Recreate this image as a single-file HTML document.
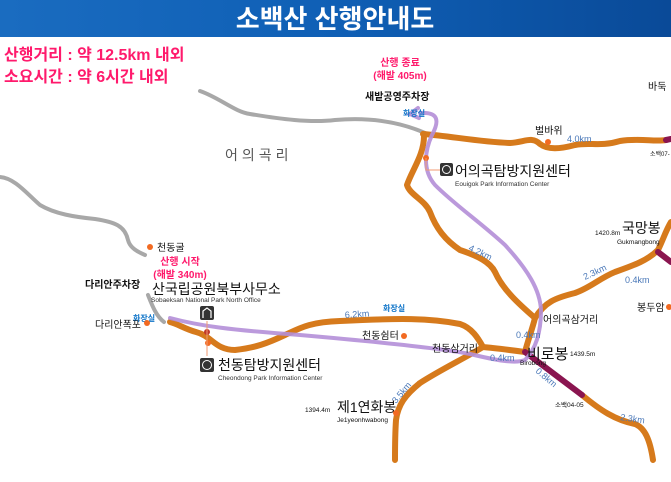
<!DOCTYPE html>
<html><head><meta charset="utf-8"><style>
html,body{margin:0;padding:0;background:#fff;}
svg{display:block;}
text{font-family:"Liberation Sans","Noto Sans CJK KR",sans-serif;}
</style></head><body>
<svg width="671" height="482" viewBox="0 0 671 482" xmlns="http://www.w3.org/2000/svg">
<defs>
<linearGradient id="hg" x1="0" x2="1" y1="0" y2="0">
<stop offset="0" stop-color="#1a6cc0"/><stop offset="0.5" stop-color="#0f5fb5"/><stop offset="1" stop-color="#0a4a98"/>
</linearGradient>
</defs>
<rect x="0" y="0" width="671" height="37" fill="url(#hg)"/>
<text x="335" y="28" font-size="26" font-weight="bold" fill="#fff" text-anchor="middle">소백산 산행안내도</text>

<g fill="none" stroke="#a8a8a8" stroke-width="4" stroke-linecap="round">
<path d="M200,91 C220,98 235,112 250,114 C280,119 310,123 335,120 C370,117 400,122 425,133"/>
<path d="M0,177 C15,178 28,195 40,205 C55,214 75,217 95,219 C115,222 125,226 128,240 C130,248 138,252 145,255"/>
<path d="M148,295 C152,305 156,316 164,322"/>
</g>

<g fill="none" stroke="#d67a1c" stroke-width="6" stroke-linecap="round" stroke-linejoin="round">
<path d="M423,134 C450,136 480,142 510,143 C525,142 532,136 540,144 C548,150 560,149 575,145 C590,142 600,147 620,141 C640,138 655,142 666,140"/>
<path d="M424,136 C424,155 412,170 407,185 C410,195 425,200 430,212 C436,228 445,240 460,250 C478,256 490,262 495,272 C503,290 520,305 535,318"/>
<path d="M535,318 C532,330 528,340 525,352"/>
<path d="M535,318 C545,302 555,298 575,293 C590,288 600,278 615,272 C635,265 648,260 658,250 C663,240 666,230 671,222"/>
<path d="M525,352 C510,350 495,348 483,347 C478,338 472,328 460,324 C430,318 400,318 340,321 C310,322 300,328 285,335 C268,343 255,348 235,350 C215,350 212,336 196,332 C185,329 178,324 170,322"/>
<path d="M483,347 C465,358 440,370 420,383 C405,395 398,405 396,420 C395,435 395,450 395,460"/>
<path d="M582,395 C600,410 615,420 635,424 C645,428 650,440 653,460"/>
</g>
<g fill="none" stroke="#8a1550" stroke-width="6" stroke-linecap="round">
<path d="M525,352 L582,395"/>
<path d="M658,252 L671,262"/>
<path d="M666,140 L671,139"/>
</g>

<g fill="none" stroke="#b48fd8" stroke-width="4" stroke-linecap="round" opacity="0.9">
<path d="M170,318 C200,326 230,330 300,335 C380,342 440,348 470,354 C495,360 515,364 525,360 C535,350 541,335 541,310 C540,290 528,270 505,245 C480,222 455,205 435,185 C422,170 425,150 432,135 C440,120 438,112 420,113"/>
<path d="M418,108 L410,114 L419,118"/>
</g>

<g fill="#ff1a6c" font-weight="bold">
<text x="4" y="60" font-size="16">산행거리 : 약 12.5km 내외</text>
<text x="4" y="82" font-size="16">소요시간 : 약 6시간 내외</text>
<text x="400" y="66" font-size="10" text-anchor="middle">산행 종료</text>
<text x="400" y="79" font-size="10" text-anchor="middle">(해발 405m)</text>
<text x="180" y="265" font-size="10" text-anchor="middle">산행 시작</text>
<text x="180" y="278" font-size="10" text-anchor="middle">(해발 340m)</text>
</g>

<g fill="#111">
<text x="365" y="100" font-size="10" font-weight="bold">새밭공영주차장</text>
<text x="85" y="288" font-size="10" font-weight="bold">다리안주차장</text>
<text x="648" y="90" font-size="10">바둑</text>
<text x="535" y="134" font-size="10">벌바위</text>
<text x="650" y="156" font-size="6">소백07-</text>
<text x="455" y="176" font-size="14">어의곡탐방지원센터</text>
<text x="455" y="186" font-size="6.5" fill="#333">Eouigok Park Information Center</text>
<text x="225" y="160" font-size="14" fill="#555" letter-spacing="4">어의곡리</text>
<text x="157" y="251" font-size="10">천동굴</text>
<text x="152" y="294" font-size="14">산국립공원북부사무소</text>
<text x="151" y="302" font-size="6.5" fill="#333">Sobaeksan National Park North Office</text>
<text x="95" y="328" font-size="10">다리안폭포</text>
<text x="218" y="370" font-size="14">천동탐방지원센터</text>
<text x="218" y="380" font-size="6.5" fill="#333">Cheondong Park Information Center</text>
<text x="362" y="339" font-size="10">천동쉼터</text>
<text x="432" y="352" font-size="10">천동삼거리</text>
<text x="543" y="323" font-size="10">어의곡삼거리</text>
<text x="527" y="359" font-size="15">비로봉</text>
<text x="570" y="356" font-size="6.5">1439.5m</text>
<text x="520" y="365" font-size="6.5">Birobong</text>
<text x="555" y="407" font-size="6.5">소백04-05</text>
<text x="637" y="311" font-size="10">봉두암</text>
<text x="595" y="235" font-size="6.5">1420.8m</text>
<text x="622" y="233" font-size="14">국망봉</text>
<text x="617" y="244" font-size="6.5">Gukmangbong</text>
<text x="305" y="412" font-size="6.5">1394.4m</text>
<text x="337" y="412" font-size="14">제1연화봉</text>
<text x="337" y="422" font-size="6.5">Je1yeonhwabong</text>
</g>

<g fill="#0f74c8" font-size="8" font-weight="bold">
<text x="403" y="116">화장실</text>
<text x="133" y="321">화장실</text>
<text x="383" y="311">화장실</text>
</g>

<g fill="#4a78b8" font-size="9">
<text x="567" y="142">4.0km</text>
<text x="345" y="318" transform="rotate(-4 345 318)">6.2km</text>
<text x="490" y="361">0.4km</text>
<text x="516" y="338">0.4km</text>
<text x="535" y="372" transform="rotate(40 535 372)">0.8km</text>
<text x="620" y="420" transform="rotate(8 620 420)">2.3km</text>
<text x="468" y="250" transform="rotate(25 468 250)">4.2km</text>
<text x="585" y="280" transform="rotate(-25 585 280)">2.3km</text>
<text x="625" y="283">0.4km</text>
<text x="396" y="404" transform="rotate(-50 396 404)">3.5km</text>
</g>

<g fill="#f26a22">
<circle cx="548" cy="142" r="3"/>
<circle cx="426" cy="158" r="3"/>
<circle cx="150" cy="247" r="3"/>
<circle cx="147" cy="323" r="3"/>
<circle cx="207" cy="332" r="3" fill="#c0392b"/>
<circle cx="208" cy="343" r="3"/>
<circle cx="404" cy="336" r="3"/>
<circle cx="669" cy="307" r="3"/>
<circle cx="396" cy="413" r="3"/>
</g>
<g stroke="#f09a70" stroke-width="1" fill="none">
<path d="M426,158 V170 H440"/>
<path d="M207,321 V356"/>
</g>
<g>
<rect x="440" y="163" width="13" height="13" rx="2" fill="#333"/>
<circle cx="446.5" cy="169.5" r="4" fill="none" stroke="#fff" stroke-width="1"/>
<rect x="200" y="306" width="14" height="14" rx="2" fill="#333"/>
<path d="M203,318 V311 L207,308 L211,311 V318" fill="none" stroke="#fff" stroke-width="1.2"/>
<rect x="200" y="358" width="14" height="14" rx="2" fill="#333"/>
<circle cx="207" cy="365" r="4.5" fill="none" stroke="#fff" stroke-width="1"/>
</g>
</svg>
</body></html>
